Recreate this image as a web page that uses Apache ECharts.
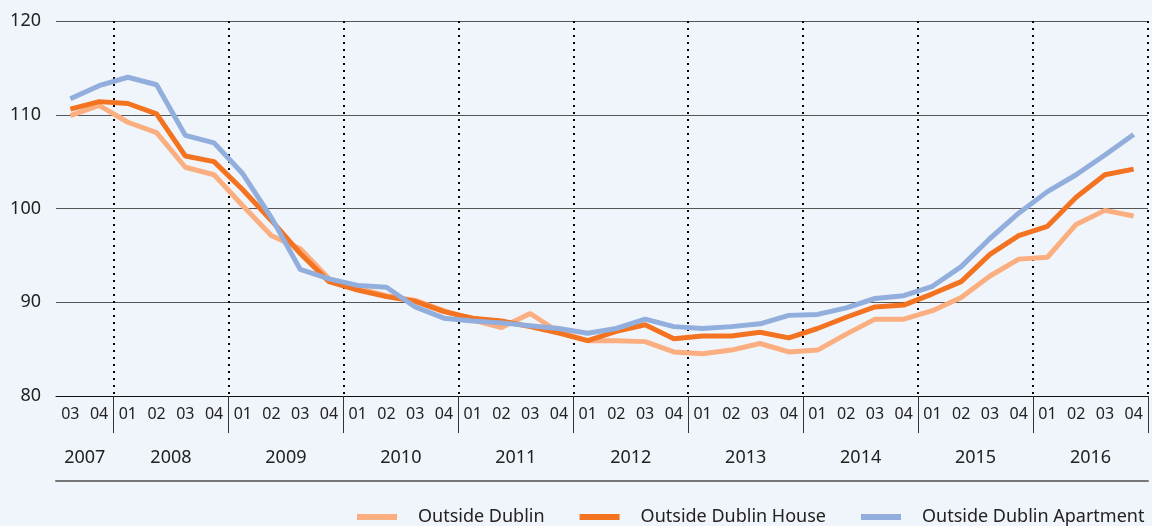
<!DOCTYPE html>
<html>
<head>
<meta charset="UTF-8">
<title>Outside Dublin price index</title>
<script src="https://cdn.jsdelivr.net/npm/echarts@6/dist/echarts.min.js"></script>
<style>
html, body { margin: 0; padding: 0; background: #f0f5fb; }
#chart { width: 1152px; height: 526px; }
</style>
</head>
<body>
<div id="chart"></div>
<script>
// quarter labels, 2007 Q3 .. 2016 Q4
var quarters = ['03', '04',
	'01', '02', '03', '04', '01', '02', '03', '04', '01', '02', '03', '04',
	'01', '02', '03', '04', '01', '02', '03', '04', '01', '02', '03', '04',
	'01', '02', '03', '04', '01', '02', '03', '04', '01', '02', '03', '04'];
var years = ['2007', '2008', '2009', '2010', '2011', '2012', '2013', '2014', '2015', '2016'];

var outsideDublin = [109.9, 111.0, 109.2, 108.1, 104.4, 103.6, 100.3, 97.1, 95.7, 92.5,
	91.5, 90.7, 90.2, 89.1, 88.1, 87.3, 88.8, 86.8, 85.9, 85.9,
	85.8, 84.7, 84.5, 84.9, 85.6, 84.7, 84.9, 86.6, 88.2, 88.2,
	89.1, 90.5, 92.8, 94.6, 94.8, 98.3, 99.8, 99.2];
var outsideHouse = [110.6, 111.4, 111.2, 110.1, 105.6, 105.0, 102.0, 98.7, 95.2, 92.2,
	91.3, 90.6, 90.1, 89.0, 88.3, 88.0, 87.4, 86.7, 85.9, 86.9,
	87.6, 86.1, 86.4, 86.4, 86.8, 86.2, 87.2, 88.4, 89.5, 89.7,
	90.9, 92.2, 95.1, 97.1, 98.1, 101.2, 103.6, 104.2];
var outsideApartment = [111.7, 113.1, 114.0, 113.2, 107.8, 107.0, 103.7, 99.0, 93.5, 92.5,
	91.8, 91.6, 89.5, 88.3, 88.0, 87.8, 87.5, 87.2, 86.7, 87.2,
	88.2, 87.4, 87.2, 87.4, 87.7, 88.6, 88.7, 89.4, 90.4, 90.7,
	91.7, 93.8, 96.8, 99.5, 101.8, 103.6, 105.7, 107.9];

// year axis: half-quarter steps, year text in the middle of each year
var yearCats = [];
for (var k = 0; k <= 76; k++) yearCats.push('');
yearCats[2] = years[0];
for (var j = 1; j < years.length; j++) yearCats[8 * j] = years[j];

var font = 'Noto Sans';
var myChart = echarts.init(document.getElementById('chart'));

var option = {
	backgroundColor: '#f0f5fb',
	textStyle: { fontFamily: font },
	grid: { left: 56, right: 4, top: 21, bottom: 130 },
	legend: {
		data: ['Outside Dublin', 'Outside Dublin House', 'Outside Dublin Apartment'],
		icon: 'rect',
		itemWidth: 40,
		itemHeight: 6,
		itemGap: 35,
		left: 352,
		top: 503,
		textStyle: { fontSize: 18, color: '#222', fontFamily: font, padding: [0, 0, 0, 16] }
	},
	xAxis: [{
		type: 'category',
		data: quarters,
		boundaryGap: true,
		axisLine: { lineStyle: { color: '#111', width: 1 } },
		axisTick: {
			length: 30,
			interval: function (index) { return index > 0; },
			lineStyle: { color: '#555' }
		},
		axisLabel: { interval: 0, margin: 10, fontSize: 16, color: '#222', fontFamily: font },
		splitLine: {
			show: true,
			interval: function (index) { return quarters[index] === '01'; },
			lineStyle: { color: '#000', width: 2, type: [2, 5] }
		}
	}, {
		type: 'category',
		data: yearCats,
		boundaryGap: false,
		position: 'bottom',
		axisLine: { show: false },
		axisTick: {
			length: 37,
			interval: function (index) { return index % 8 === 4; },
			lineStyle: { color: '#333' }
		},
		axisLabel: { interval: 0, margin: 53, fontSize: 18, color: '#222', fontFamily: font },
		splitLine: { show: false }
	}, {
		type: 'category',
		data: quarters,
		position: 'bottom',
		offset: 85,
		axisLine: { lineStyle: { color: '#777', width: 2 } },
		axisTick: { show: false },
		axisLabel: { show: false },
		splitLine: { show: false }
	}],
	yAxis: {
		type: 'value',
		min: 80,
		max: 120,
		interval: 10,
		axisLine: { show: false },
		axisTick: { show: false },
		axisLabel: { margin: 15, fontSize: 18, color: '#222', fontFamily: font },
		splitLine: { lineStyle: { color: '#555', width: 1 } }
	},
	series: [{
		name: 'Outside Dublin',
		type: 'line',
		data: outsideDublin,
		symbol: 'none',
		lineStyle: { width: 5, color: '#fbae7f' },
		itemStyle: { color: '#fbae7f' }
	}, {
		name: 'Outside Dublin House',
		type: 'line',
		data: outsideHouse,
		symbol: 'none',
		lineStyle: { width: 5, color: '#f37321' },
		itemStyle: { color: '#f37321' }
	}, {
		name: 'Outside Dublin Apartment',
		type: 'line',
		data: outsideApartment,
		symbol: 'none',
		lineStyle: { width: 5, color: '#91aedd' },
		itemStyle: { color: '#91aedd' }
	}]
};
myChart.setOption(option);
</script>
</body>
</html>
